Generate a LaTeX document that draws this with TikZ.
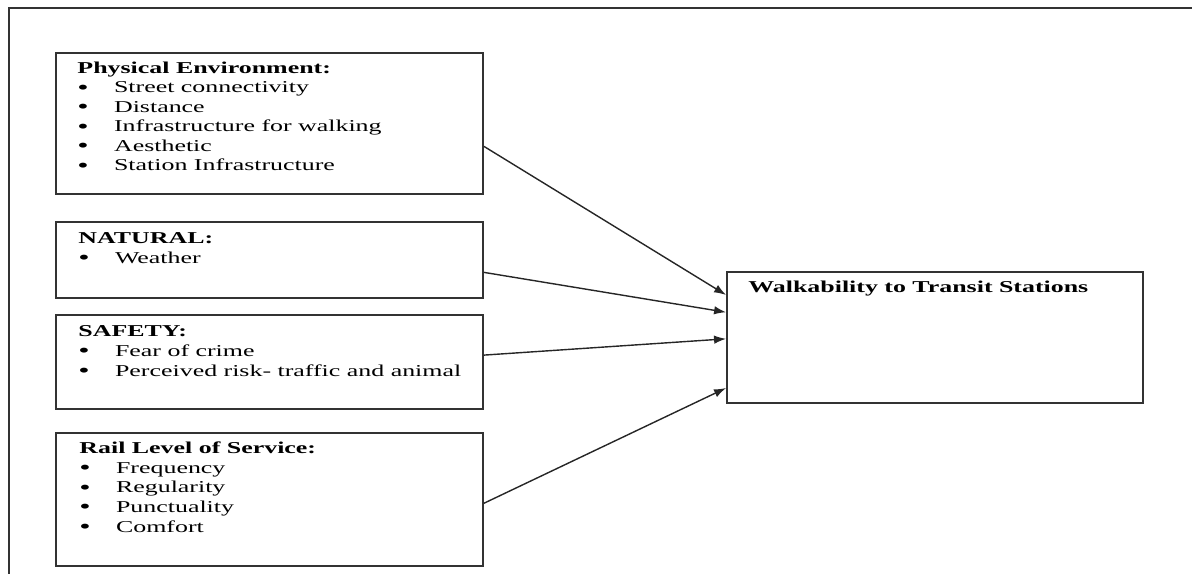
\documentclass[tikz,border=0pt]{standalone}
\usepackage{fontspec}
\setmainfont{Liberation Serif}
\usepackage{graphicx}
\usetikzlibrary{arrows.meta}
\usetikzlibrary{positioning}
\usetikzlibrary{calc}

\newcommand{\stretchtext}[1]{\scalebox{1.56}[1]{#1}}
\newcommand{\factorlist}[2]{\stretchtext{\begin{tabular}[t]{@{}p{0.47cm}@{}l@{}}\multicolumn{2}{@{}l@{}}{\textbf{#1}}#2\end{tabular}}}
\newcommand{\fitem}[1]{\\\raisebox{-0.8pt}{\scalebox{1.25}{\textbullet}} & #1}

\begin{document}
\begin{tikzpicture}[x=0.02cm,y=-0.02cm]
  \tikzset{factorbox/.style={draw=black!80,line width=1.1pt,minimum width=8.54cm,minimum height=#1,inner sep=0pt},
           factortext/.style={anchor=base west,inner sep=0pt,font=\fontsize{9.45}{11.15}\selectfont},
           feeds/.style={-{Latex[length=2.4mm,width=1.7mm]},line width=0.8pt,black!85}}
  \useasboundingbox (0,0) rectangle (1192,574);
  \draw[black!80,line width=1.1pt] (9,574) -- (9,8) -- (1192,8);

  \node[factorbox=2.82cm] (physical) at (269.5,123.5) {};
  \node[factorbox=1.52cm,below=0.52cm of physical] (natural) {};
  \node[factorbox=1.88cm,below=0.30cm of natural] (safety) {};
  \node[factorbox=2.66cm,below=0.44cm of safety] (rail) {};
  \node[factorbox=2.62cm,minimum width=8.32cm] (walk) at (935,337.5) {};

  \node[factortext] (physicaltext) at ($(physical.north west)+(22,21)$)
    {\factorlist{Physical Environment:}{\fitem{Street connectivity}\fitem{Distance}\fitem{Infrastructure for walking}\fitem{Aesthetic}\fitem{Station Infrastructure}}};
  \node[factortext] (naturaltext) at ($(natural.north west)+(23,23)$)
    {\factorlist{NATURAL:}{\fitem{Weather}}};
  \node[factortext] (safetytext) at ($(safety.north west)+(23,23)$)
    {\factorlist{SAFETY:}{\fitem{Fear of crime}\fitem{Perceived risk- traffic and animal}}};
  \node[factortext] (railtext) at ($(rail.north west)+(24,22)$)
    {\factorlist{Rail Level of Service:}{\fitem{Frequency}\fitem{Regularity}\fitem{Punctuality}\fitem{Comfort}}};
  \node[factortext] (walktext) at ($(walk.north west)+(22,21)$)
    {\stretchtext{\textbf{Walkability to Transit Stations}}};

  \draw[feeds] ($(physical.north east)!0.66!(physical.south east)$) -- ($(walk.north west)!0.18!(walk.south west)$);
  \draw[feeds] ($(natural.north east)!0.66!(natural.south east)$) -- ($(walk.north west)!0.31!(walk.south west)$);
  \draw[feeds] ($(safety.north east)!0.43!(safety.south east)$) -- ($(walk.north west)!0.51!(walk.south west)$);
  \draw[feeds] ($(rail.north east)!0.53!(rail.south east)$) -- ($(walk.north west)!0.88!(walk.south west)$);
\end{tikzpicture}
\end{document}
